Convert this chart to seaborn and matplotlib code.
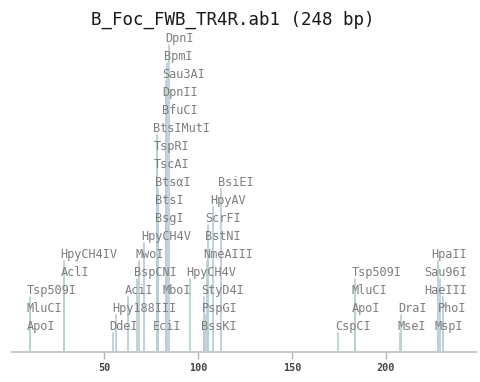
import matplotlib
matplotlib.use("Agg")
import matplotlib.pyplot as plt
import matplotlib.transforms as mtransforms
import seaborn as sns
import pandas as pd

# ---------------- data ----------------
title = "B_Foc_FWB_TR4R.ab1 (248 bp)"
seq_length = 248
ticks = [50, 100, 150, 200]

enzymes = [
    "ApoI", "DdeI", "EciI", "BssKI", "CspCI", "MseI", "MspI",
    "MluCI", "Hpy188III", "PspGI", "ApoI", "DraI", "PhoI",
    "Tsp509I", "AciI", "MboI", "StyD4I", "MluCI", "HaeIII",
    "AclI", "BspCNI", "HpyCH4V", "Tsp509I", "Sau96I",
    "HpyCH4IV", "MwoI", "NmeAIII", "HpaII",
    "HpyCH4V", "BstNI",
    "BsgI", "ScrFI",
    "BtsI", "HpyAV",
    "BtsαI", "BsiEI",
    "TscAI", "TspRI", "BtsIMutI", "BfuCI", "DpnII", "Sau3AI", "BpmI", "DpnI",
]
positions = [
    10.8, 54.6, 78.0, 103.4, 174.6, 207.8, 227.7,
    10.8, 56.4, 103.8, 183.5, 208.3, 230.3,
    10.8, 62.6, 82.8, 103.4, 183.5, 230.3,
    28.7, 67.5, 95.6, 183.5, 228.9,
    28.7, 68.4, 104.8, 227.7,
    71.4, 105.5,
    78.9, 105.5,
    78.9, 108.3,
    78.9, 112.2,
    78.0, 78.0, 78.0, 82.8, 82.8, 82.8, 83.5, 84.6,
]
label_rows = [
    0, 0, 0, 0, 0, 0, 0,
    1, 1, 1, 1, 1, 1,
    2, 2, 2, 2, 2, 2,
    3, 3, 3, 3, 3,
    4, 4, 4, 4,
    5, 5,
    6, 6,
    7, 7,
    8, 8,
    9, 10, 11, 12, 13, 14, 15, 16,
]

# ---------------- styling / layout ----------------
sns.set_theme(style="white")
plt.rcParams["font.family"] = ["DejaVu Sans Mono", "DejaVu Sans"]

W, H = 481, 382
DPI = 100
fig = plt.figure(figsize=(W / DPI, H / DPI), dpi=DPI)
ax = fig.add_axes([10 / W, 30 / H, 466 / W, 352 / H])

ROW_BASE = 22.0   # px above axis for the baseline of the lowest label row
ROW_STEP = 18.0   # px between label rows
LINE_GAP = 3.0    # px between line top and label baseline

ids, xs, ys = [], [], []
for i, (p, r) in enumerate(zip(positions, label_rows)):
    top = ROW_BASE - LINE_GAP + ROW_STEP * r
    ids += [i, i]
    xs += [p, p]
    ys += [0, top]
lines_df = pd.DataFrame({"id": ids, "x": xs, "y": ys})

sns.lineplot(data=lines_df, x="x", y="y", units="id", estimator=None,
             sort=False, color="#bccfd5", linewidth=1.3, ax=ax, legend=False)

ax.set_xlim(0, seq_length)
ax.set_ylim(0, 352)
ax.set_xlabel("")
ax.set_ylabel("")
ax.set_yticks([])
ax.set_xticks(ticks)
ax.set_xticklabels([str(t) for t in ticks])
for s in ("left", "top", "right"):
    ax.spines[s].set_visible(False)
ax.spines["bottom"].set_color("#c8c8c8")
ax.spines["bottom"].set_linewidth(1.4)
ax.spines["bottom"].set_bounds(1, seq_length)
ax.tick_params(axis="x", direction="out", length=5, width=1, color="#b5b5b5",
               pad=3, labelsize=7.3, labelcolor="#444444", bottom=True)
for lab in ax.get_xticklabels():
    lab.set_fontweight("bold")

offset = mtransforms.ScaledTranslation(-3.3 / DPI, 0, fig.dpi_scale_trans)
texts = []
for name, p, r in zip(enzymes, positions, label_rows):
    t = ax.text(p, ROW_BASE + ROW_STEP * r, name, fontsize=8.6, color="#7d7d7d",
                ha="left", va="baseline", transform=ax.transData + offset)
    texts.append(t)

# keep labels inside the right edge of the label area
fig.canvas.draw()
renderer = fig.canvas.get_renderer()
right_limit = 466.7
px_per_bp = 466.0 / seq_length
for t in texts:
    bb = t.get_window_extent(renderer)
    if bb.x1 > right_limit:
        t.set_x(t.get_position()[0] - (bb.x1 - right_limit) / px_per_bp)

fig.text(232.8 / W, 1 - 19.5 / H, title, ha="center", va="center",
         fontsize=12.6, color="#1a1a1a")

fig.savefig("out.png", dpi=DPI)
